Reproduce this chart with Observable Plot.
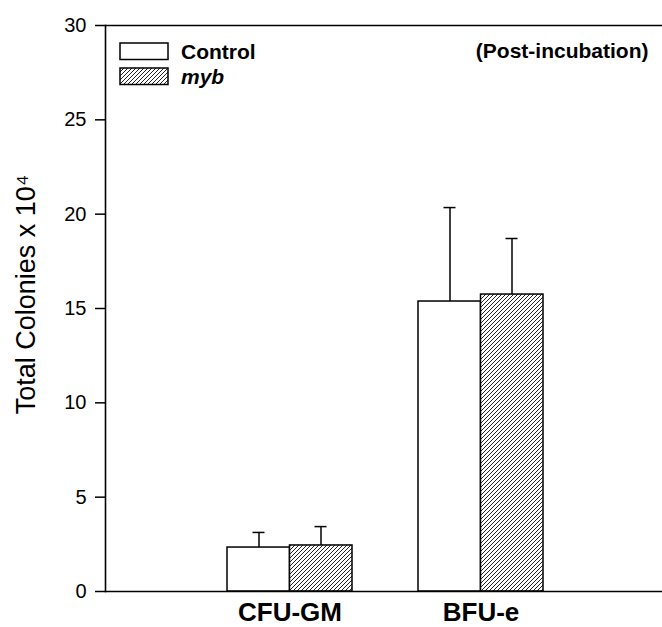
<!DOCTYPE html>
<html><head><meta charset="utf-8">
<script src="https://cdn.jsdelivr.net/npm/d3@7"></script>
<script src="https://cdn.jsdelivr.net/npm/@observablehq/plot@0.6"></script>
<style>
body{margin:0;background:#fff}
#chart{position:relative;width:662px;height:627px}
</style>
</head><body><div id="chart"></div>
<script>
const categories = ["CFU-GM", "BFU-e"];
const seriesNames = ["Control", "myb"];
const controlValues = [2.33, 15.37];
const mybValues = [2.44, 15.74];
const controlErrors = [0.80, 4.98];
const mybErrors = [1.00, 2.97];
const yTicks = [0, 5, 10, 15, 20, 25, 30];
const yLabel = "Total Colonies x 10⁴";
const note = "(Post-incubation)";

const controlData = categories.map((c, i) => ({category: c, value: controlValues[i], top: controlValues[i] + controlErrors[i]}));
const mybData = categories.map((c, i) => ({category: c, value: mybValues[i], top: mybValues[i] + mybErrors[i]}));

const font = "'Liberation Sans', Arial, sans-serif";

const svg = Plot.plot({
  width: 662,
  height: 627,
  marginLeft: 105,
  marginRight: 0,
  marginTop: 25,
  marginBottom: 36,
  style: {fontFamily: font, background: "#fff", color: "#000"},
  x: {type: "band", domain: categories, range: [194, 576], padding: 0},
  y: {domain: [0, 30]},
  marks: [
    Plot.barY(controlData, {x: "category", y: "value", fill: "#fff", stroke: "#000", strokeWidth: 1.5, insetLeft: 33, insetRight: 95.5}),
    Plot.barY(mybData, {x: "category", y: "value", fill: "url(#hatch)", stroke: "#000", strokeWidth: 1.5, insetLeft: 95.5, insetRight: 33}),
    Plot.ruleX(controlData, {x: "category", y1: "value", y2: "top", dx: -31, stroke: "#000", strokeWidth: 1.5}),
    Plot.ruleX(mybData, {x: "category", y1: "value", y2: "top", dx: 31, stroke: "#000", strokeWidth: 1.5}),
    Plot.tickY(controlData, {x: "category", y: "top", insetLeft: 58.5, insetRight: 120.5, stroke: "#000", strokeWidth: 1.5}),
    Plot.tickY(mybData, {x: "category", y: "top", insetLeft: 120.5, insetRight: 58.5, stroke: "#000", strokeWidth: 1.5}),
    Plot.ruleY([0, 30], {stroke: "#000", strokeWidth: 1.6}),
    Plot.frame({anchor: "left", stroke: "#000", strokeWidth: 1.6}),
    Plot.axisY({ticks: yTicks, tickSize: 10, tickPadding: 9, fontSize: 20, label: null, strokeWidth: 1.5}),
    Plot.axisX({tickSize: 0, tickPadding: 11, fontSize: 26, fontWeight: "bold", label: null}),
    Plot.text([yLabel], {frameAnchor: "left", text: d => d, rotate: -90, dx: -79, dy: -14, fontSize: 27, lineAnchor: "middle", textAnchor: "middle"}),
    Plot.text([note], {frameAnchor: "top-right", text: d => d, textAnchor: "end", lineAnchor: "top", dx: -14, dy: 18, fontSize: 21, fontWeight: "bold"})
  ]
});

const s = d3.select(svg);
const defs = s.insert("defs", ":first-child");
const pat = defs.append("pattern").attr("id", "hatch").attr("patternUnits", "userSpaceOnUse").attr("width", 4).attr("height", 4);
pat.append("rect").attr("width", 4).attr("height", 4).attr("fill", "#fff");
pat.append("path").attr("d", "M-1,1 l2,-2 M0,4 l4,-4 M3,5 l2,-2").attr("stroke", "#222").attr("stroke-width", 1);

// legend
const legend = s.append("g").attr("font-family", font).attr("font-size", 21).attr("font-weight", "bold").attr("text-anchor", "start");
const legendFills = ["#fff", "url(#hatch)"];
const legendY = [43, 68];
seriesNames.forEach((name, i) => {
  legend.append("rect").attr("x", 120).attr("y", legendY[i]).attr("width", 48).attr("height", 16.5)
    .attr("fill", legendFills[i]).attr("stroke", "#000").attr("stroke-width", 1.5);
  legend.append("text").attr("x", 181).attr("y", legendY[i] + 16).attr("text-anchor", "start").text(name)
    .attr("font-style", i === 1 ? "italic" : "normal");
});

document.getElementById("chart").appendChild(svg);
</script>
</body></html>
